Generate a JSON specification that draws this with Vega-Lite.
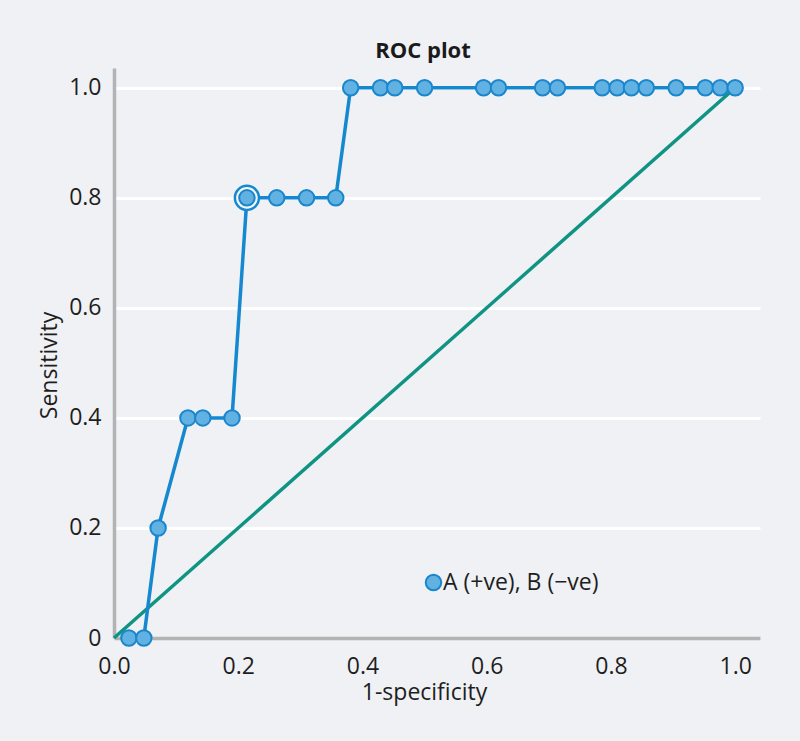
{
  "$schema": "https://vega.github.io/schema/vega-lite/v6.json",
  "width": 646,
  "height": 570,
  "autosize": "none",
  "padding": {"left": 114, "top": 68, "right": 40, "bottom": 103},
  "background": "#eff1f4",
  "title": {
    "text": "ROC plot",
    "anchor": "middle",
    "dx": -14,
    "dy": 22,
    "offset": 10,
    "baseline": "alphabetic",
    "font": "Open Sans",
    "fontSize": 22,
    "fontWeight": "bold",
    "color": "#1a1a1a"
  },
  "config": {
    "view": {"stroke": null},
    "font": "Open Sans",
    "axis": {
      "domainColor": "#b3b3b3",
      "domainWidth": 3.5,
      "ticks": false,
      "labelFlush": false,
      "labelFont": "Open Sans",
      "labelFontSize": 23,
      "labelColor": "#1e1e1e",
      "titleFont": "Open Sans",
      "titleFontSize": 23,
      "titleFontWeight": "normal",
      "titleColor": "#1e1e1e"
    },
    "legend": {
      "labelFont": "Open Sans",
      "labelFontSize": 23,
      "labelColor": "#1e1e1e"
    }
  },
  "datasets": {
    "roc": [
      {"fpr": 0.024, "tpr": 0.0, "series": "A (+ve), B (−ve)", "best": false},
      {"fpr": 0.048, "tpr": 0.0, "series": "A (+ve), B (−ve)", "best": false},
      {"fpr": 0.071, "tpr": 0.2, "series": "A (+ve), B (−ve)", "best": false},
      {"fpr": 0.119, "tpr": 0.4, "series": "A (+ve), B (−ve)", "best": false},
      {"fpr": 0.143, "tpr": 0.4, "series": "A (+ve), B (−ve)", "best": false},
      {"fpr": 0.19, "tpr": 0.4, "series": "A (+ve), B (−ve)", "best": false},
      {"fpr": 0.214, "tpr": 0.8, "series": "A (+ve), B (−ve)", "best": true},
      {"fpr": 0.262, "tpr": 0.8, "series": "A (+ve), B (−ve)", "best": false},
      {"fpr": 0.31, "tpr": 0.8, "series": "A (+ve), B (−ve)", "best": false},
      {"fpr": 0.357, "tpr": 0.8, "series": "A (+ve), B (−ve)", "best": false},
      {"fpr": 0.381, "tpr": 1.0, "series": "A (+ve), B (−ve)", "best": false},
      {"fpr": 0.429, "tpr": 1.0, "series": "A (+ve), B (−ve)", "best": false},
      {"fpr": 0.452, "tpr": 1.0, "series": "A (+ve), B (−ve)", "best": false},
      {"fpr": 0.5, "tpr": 1.0, "series": "A (+ve), B (−ve)", "best": false},
      {"fpr": 0.595, "tpr": 1.0, "series": "A (+ve), B (−ve)", "best": false},
      {"fpr": 0.619, "tpr": 1.0, "series": "A (+ve), B (−ve)", "best": false},
      {"fpr": 0.69, "tpr": 1.0, "series": "A (+ve), B (−ve)", "best": false},
      {"fpr": 0.714, "tpr": 1.0, "series": "A (+ve), B (−ve)", "best": false},
      {"fpr": 0.786, "tpr": 1.0, "series": "A (+ve), B (−ve)", "best": false},
      {"fpr": 0.81, "tpr": 1.0, "series": "A (+ve), B (−ve)", "best": false},
      {"fpr": 0.833, "tpr": 1.0, "series": "A (+ve), B (−ve)", "best": false},
      {"fpr": 0.857, "tpr": 1.0, "series": "A (+ve), B (−ve)", "best": false},
      {"fpr": 0.905, "tpr": 1.0, "series": "A (+ve), B (−ve)", "best": false},
      {"fpr": 0.952, "tpr": 1.0, "series": "A (+ve), B (−ve)", "best": false},
      {"fpr": 0.976, "tpr": 1.0, "series": "A (+ve), B (−ve)", "best": false},
      {"fpr": 1.0, "tpr": 1.0, "series": "A (+ve), B (−ve)", "best": false}
    ],
    "diag": [
      {"fpr": 0, "tpr": 0},
      {"fpr": 1, "tpr": 1}
    ]
  },
  "encoding": {
    "x": {
      "field": "fpr",
      "type": "quantitative",
      "scale": {"domain": [0, 1.04], "nice": false, "zero": false},
      "axis": {
        "values": [0, 0.2, 0.4, 0.6, 0.8, 1.0],
        "format": ".1f",
        "grid": false,
        "title": "1-specificity",
        "labelPadding": 17,
        "titleX": 310,
        "titleY": 61,
        "titleAlign": "center",
        "titleBaseline": "alphabetic"
      }
    },
    "y": {
      "field": "tpr",
      "type": "quantitative",
      "scale": {"domain": [0, 1.036], "nice": false, "zero": false},
      "axis": {
        "values": [0, 0.2, 0.4, 0.6, 0.8, 1.0],
        "labelExpr": "datum.value == 0 ? '0' : format(datum.value, '.1f')",
        "grid": true,
        "gridColor": "#ffffff",
        "gridWidth": 3,
        "gridOpacity": 1,
        "labelPadding": 13,
        "title": "Sensitivity",
        "titleX": -58,
        "titleY": 297,
        "titleAngle": -90,
        "titleAlign": "center",
        "titleBaseline": "alphabetic"
      }
    }
  },
  "layer": [
    {
      "data": {"name": "diag"},
      "mark": {"type": "line", "color": "#0f9383", "strokeWidth": 3.5},
      "encoding": {}
    },
    {
      "data": {"name": "roc"},
      "mark": {"type": "line", "color": "#1588d0", "strokeWidth": 3.5},
      "encoding": {}
    },
    {
      "data": {"name": "roc"},
      "transform": [{"filter": "datum.best"}],
      "mark": {"type": "point", "shape": "circle", "filled": true, "size": 580, "fill": "#f4f7fa", "stroke": "#1588d0", "strokeWidth": 2.5, "opacity": 1},
      "encoding": {}
    },
    {
      "data": {"name": "roc"},
      "mark": {"type": "point", "shape": "circle", "filled": true, "size": 240, "stroke": "#1a86cb", "strokeWidth": 2, "opacity": 1},
      "encoding": {
        "fill": {
          "field": "series",
          "type": "nominal",
          "scale": {"range": ["#62b1e3"]},
          "legend": {
            "title": null,
            "orient": "none",
            "legendX": 308,
            "legendY": 503,
            "symbolType": "circle",
            "symbolSize": 240,
            "symbolFillColor": "#62b1e3",
            "symbolStrokeColor": "#1a86cb",
            "symbolStrokeWidth": 2,
            "symbolOpacity": 1,
            "labelOffset": -2
          }
        }
      }
    }
  ]
}
